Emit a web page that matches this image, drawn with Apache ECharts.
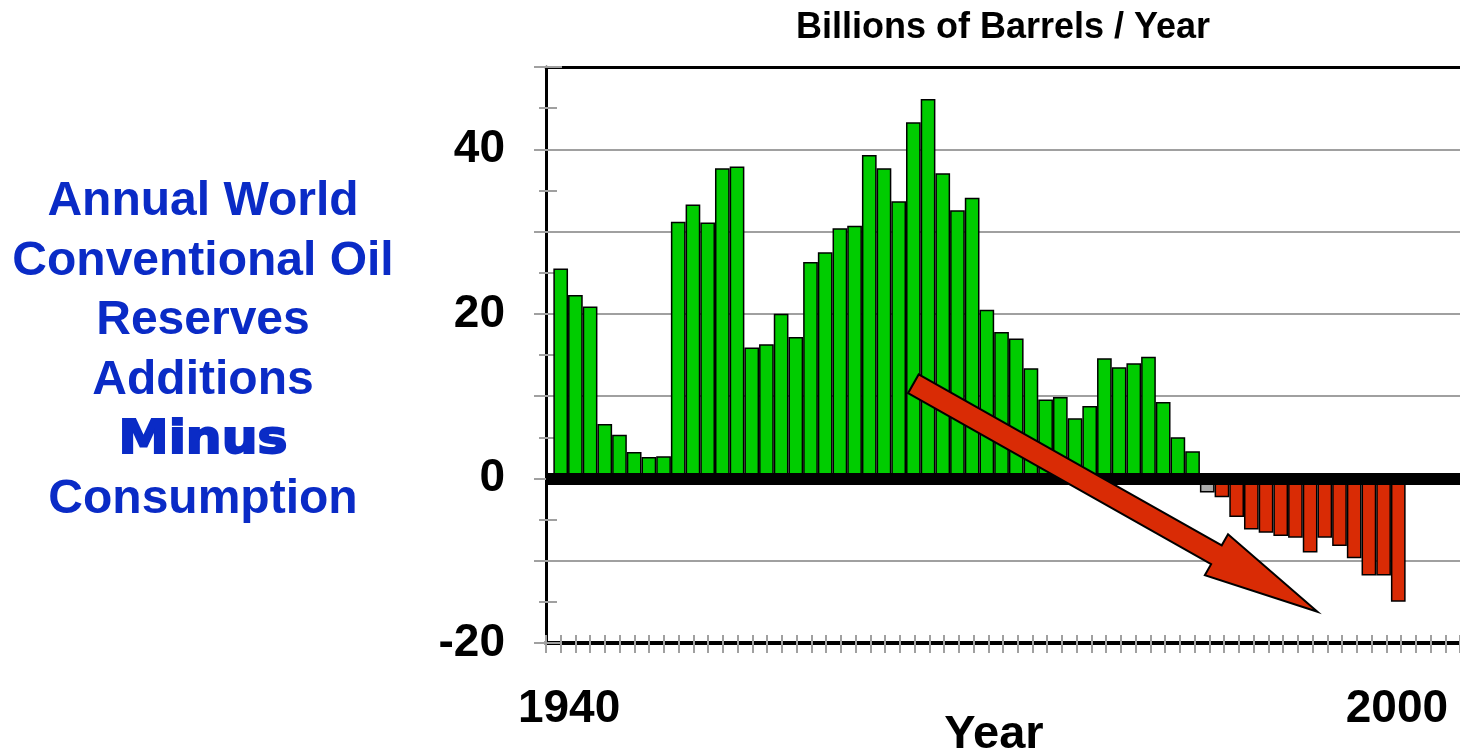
<!DOCTYPE html>
<html>
<head>
<meta charset="utf-8">
<title>Annual World Conventional Oil Reserves Additions Minus Consumption</title>
<script src="https://cdn.jsdelivr.net/npm/echarts@6/dist/echarts.min.js"></script>
<style>
  html, body { margin: 0; padding: 0; background: #fff; }
  #chart { width: 1460px; height: 751px; }
</style>
</head>
<body>
<div id="chart"></div>
<script>
// reserves additions minus consumption, billions of barrels / year
const years = [
  1940, 1941, 1942, 1943, 1944, 1945, 1946, 1947, 1948, 1949,
  1950, 1951, 1952, 1953, 1954, 1955, 1956, 1957, 1958, 1959,
  1960, 1961, 1962, 1963, 1964, 1965, 1966, 1967, 1968, 1969,
  1970, 1971, 1972, 1973, 1974, 1975, 1976, 1977, 1978, 1979,
  1980, 1981, 1982, 1983, 1984, 1985, 1986, 1987, 1988, 1989,
  1990, 1991, 1992, 1993, 1994, 1995, 1996, 1997
];
const netAdditions = [
  25.5, 22.3, 20.9, 6.6, 5.3, 3.2, 2.6, 2.7, 31.2, 33.3,
  31.1, 37.7, 37.9, 15.9, 16.3, 20.0, 17.2, 26.3, 27.5, 30.4,
  30.7, 39.3, 37.7, 33.7, 43.3, 46.1, 37.1, 32.6, 34.1, 20.5,
  17.8, 17.0, 13.4, 9.6, 9.9, 7.3, 8.8, 14.6, 13.5, 14.0,
  14.8, 9.3, 5.0, 3.3, -1.7, -2.3, -4.7, -6.2, -6.6, -7.0,
  -7.2, -9.0, -7.2, -8.2, -9.7, -11.8, -11.8, -15.0
];
const greyYear = 1984;
const yLabels = [-20, 0, 20, 40];
const xLabels = [1940, 2000];
const sideLines = ['Annual World', 'Conventional Oil', 'Reserves', 'Additions', 'Minus', 'Consumption'];
// trend arrow, in data coordinates [year, value]
const arrowFrom = [1964, 11.5];
const arrowTo = [1991.5, -16.2];

const FONT = "'Liberation Sans', Arial, Helvetica, sans-serif";
const GREEN = '#00cc00';
const RED = '#d92b05';
const GREY = '#aaaaaa';
const BLUE = '#0a2bc6';
const GRIDGREY = '#a0a0a0';

const chart = echarts.init(document.getElementById('chart'));

const hidden = { show: false };
const option = {
  animation: false,
  backgroundColor: '#fff',
  grid: { left: 546, right: 0, top: 67, bottom: 108, containLabel: false, outerBoundsMode: 'none' },
  xAxis: [
    // bars
    { type: 'value', min: 1939, max: 2001.2, show: false },
    // year ticks, outer half + baseline
    {
      type: 'value', position: 'bottom', min: 0, max: 62, interval: 1,
      axisLine: { show: true, onZero: false, lineStyle: { color: '#000', width: 4 } },
      axisTick: { show: true, length: 10, lineStyle: { color: GRIDGREY, width: 2 } },
      axisLabel: hidden, splitLine: hidden
    },
    // year ticks, inner half
    {
      type: 'value', position: 'bottom', min: 0, max: 62, interval: 1,
      axisLine: { show: false, onZero: false },
      axisTick: { show: true, inside: true, length: 8, lineStyle: { color: GRIDGREY, width: 2 } },
      axisLabel: hidden, splitLine: hidden
    },
    // top frame line
    {
      type: 'value', position: 'top', min: 0, max: 1,
      axisLine: { show: true, onZero: false, lineStyle: { color: '#000', width: 3 } },
      axisTick: hidden, axisLabel: hidden, splitLine: hidden
    },
    // year labels
    {
      type: 'value', position: 'bottom', min: 1938.33, max: 2004.57,
      axisLine: { show: false, onZero: false }, axisTick: hidden, splitLine: hidden,
      axisLabel: {
        customValues: xLabels, margin: 43,
        formatter: v => String(v),
        fontFamily: FONT, fontWeight: 'bold', fontSize: 46, color: '#000'
      },
      name: 'Year', nameLocation: 'middle', nameGap: 69, nameMoveOverlap: false,
      nameTextStyle: { fontFamily: FONT, fontWeight: 'bold', fontSize: 47, color: '#000', padding: [0, 18, 0, 0] }
    }
  ],
  yAxis: [
    {
      type: 'value', min: -20, max: 50, interval: 10,
      axisLine: { show: true, onZero: false, lineStyle: { color: '#000', width: 3 } },
      axisTick: { show: true, inside: true, length: 16, lineStyle: { color: GRIDGREY, width: 2 } },
      minorTick: { show: true, splitNumber: 2, length: 11, lineStyle: { color: GRIDGREY, width: 2 } },
      splitLine: { show: true, lineStyle: { color: GRIDGREY, width: 2 } },
      axisLabel: {
        margin: 41,
        formatter: v => (yLabels.includes(v) ? String(v) : ''),
        fontFamily: FONT, fontWeight: 'bold', fontSize: 46, color: '#000'
      }
    },
    {
      type: 'value', position: 'left', min: -20, max: 50, interval: 10,
      axisLine: { show: false, onZero: false },
      axisTick: { show: true, length: 12, lineStyle: { color: GRIDGREY, width: 2 } },
      minorTick: { show: true, splitNumber: 2, length: 7, lineStyle: { color: GRIDGREY, width: 2 } },
      axisLabel: hidden, splitLine: hidden
    }
  ],
  series: [
    {
      type: 'bar',
      xAxisIndex: 0,
      yAxisIndex: 0,
      barWidth: 14.7,
      data: years.map((y, i) => [y, netAdditions[i]]),
      itemStyle: {
        borderColor: '#000',
        borderWidth: 1.5,
        color: p => (p.value[0] === greyYear ? GREY : p.value[1] >= 0 ? GREEN : RED)
      },
      emphasis: { disabled: true },
      markLine: {
        silent: true,
        symbol: 'none',
        label: { show: false },
        emphasis: { disabled: true },
        lineStyle: { color: '#000', width: 12, type: 'solid' },
        data: [{ yAxis: 0 }]
      }
    }
  ]
};
chart.setOption(option);

// fat arrow through the data coords
const a = chart.convertToPixel({ seriesIndex: 0 }, arrowFrom);
const b = chart.convertToPixel({ seriesIndex: 0 }, arrowTo);
const dx = b[0] - a[0], dy = b[1] - a[1];
const len = Math.sqrt(dx * dx + dy * dy);
const ux = dx / len, uy = dy / len;
const nx = -uy, ny = ux;
const headLen = 116, headHalf = 23.6, shaftHalf = 10.8;
const hx = b[0] - ux * headLen, hy = b[1] - uy * headLen;
const arrowPts = [
  [a[0] + nx * shaftHalf, a[1] + ny * shaftHalf],
  [hx + nx * shaftHalf, hy + ny * shaftHalf],
  [hx + nx * headHalf, hy + ny * headHalf],
  [b[0], b[1]],
  [hx - nx * headHalf, hy - ny * headHalf],
  [hx - nx * shaftHalf, hy - ny * shaftHalf],
  [a[0] - nx * shaftHalf, a[1] - ny * shaftHalf]
];

const graphics = [
  {
    type: 'text', x: 1003, y: 28, z: 10,
    style: {
      text: 'Billions of Barrels / Year', fill: '#000',
      font: 'bold 36px ' + FONT, align: 'center', verticalAlign: 'middle'
    }
  },
  {
    type: 'polygon', z: 100,
    shape: { points: arrowPts },
    style: { fill: RED, stroke: '#000', lineWidth: 2 }
  }
];
sideLines.forEach((line, i) => {
  const isMinus = line === 'Minus';
  graphics.push({
    type: 'text', x: 203, y: 202 + i * 59.6, z: 10,
    scaleX: isMinus ? 1.07 : 1,
    style: {
      text: line, fill: BLUE,
      stroke: isMinus ? BLUE : null,
      lineWidth: isMinus ? 2 : 0,
      font: isMinus ? "bold 47px 'DejaVu Sans', sans-serif" : 'bold 48px ' + FONT,
      align: 'center', verticalAlign: 'middle'
    }
  });
});
chart.setOption({ graphic: graphics });
</script>
</body>
</html>
